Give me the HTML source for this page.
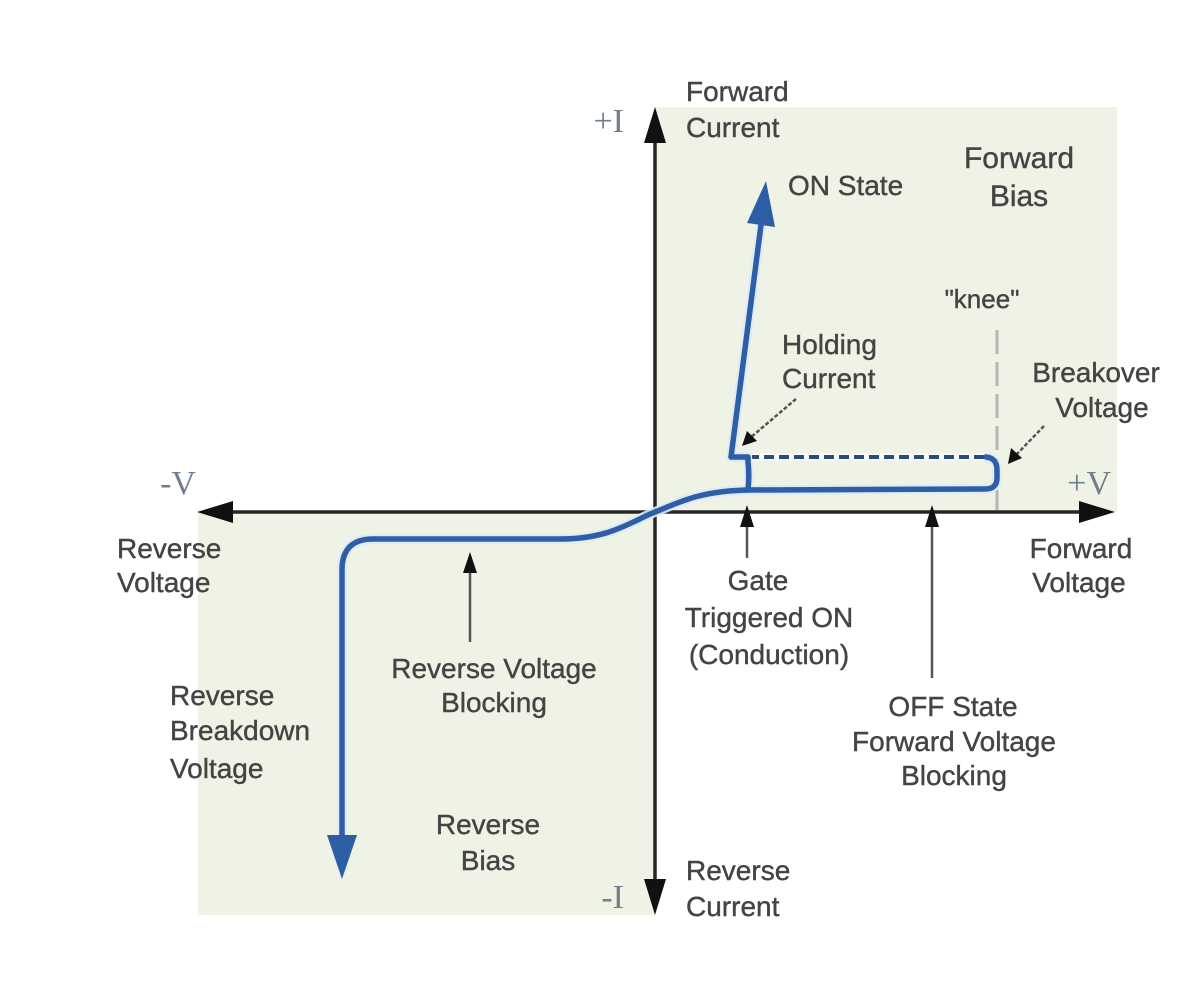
<!DOCTYPE html>
<html>
<head>
<meta charset="utf-8">
<style>
  html, body { margin: 0; padding: 0; background: #ffffff; }
  svg { display: block; }
  .t { font-family: "Liberation Sans", Arial, sans-serif; font-size: 28px; fill: #444444; stroke: #444444; stroke-width: 0.4px; }
  .s { font-family: "Liberation Serif", "Times New Roman", serif; font-size: 34px; fill: #6f7f8f; }
</style>
</head>
<body>
<svg width="1200" height="981" viewBox="0 0 1200 981" xmlns="http://www.w3.org/2000/svg">
  <rect x="0" y="0" width="1200" height="981" fill="#ffffff"/>
  <!-- shaded quadrants -->
  <rect x="655" y="107" width="462" height="405" fill="#eef3e5"/>
  <rect x="198" y="512" width="457" height="403" fill="#eef3e5"/>

  <!-- knee dashed gray line -->
  <line x1="997" y1="330" x2="997" y2="510" stroke="#b4b4b4" stroke-width="3" stroke-dasharray="24 8"/>

  <!-- axes -->
  <line x1="655" y1="138" x2="655" y2="884" stroke="#262626" stroke-width="3.5"/>
  <line x1="228" y1="512" x2="1084" y2="512" stroke="#262626" stroke-width="3.5"/>
  <polygon points="655,107 644,143 666,143" fill="#111"/>
  <polygon points="655,915 644,879 666,879" fill="#111"/>
  <polygon points="197,512 233,501 233,523" fill="#111"/>
  <polygon points="1115,512 1079,501 1079,523" fill="#111"/>

  <!-- blue curve halo -->
  <g fill="none" stroke="#dfeaf6" stroke-width="10" stroke-linejoin="round" stroke-linecap="round" opacity="0.9">
    <path d="M342,838 L342,570 Q342,539 373,539 L560,539 C610,539 630,522 655,512 C680,502 700,491 748,490 L985,489 Q997,489 997,478 L997,470 Q997,458 986,457"/>
    <path d="M748,490 C749,480 749,470 748,462 L748,457 L731,457 L761,225"/>
  </g>
  <!-- blue curve -->
  <g fill="none" stroke="#2d5ea6" stroke-width="5.5" stroke-linejoin="round" stroke-linecap="round">
    <path d="M342,838 L342,570 Q342,539 373,539 L560,539 C610,539 630,522 655,512 C680,502 700,491 748,490 L985,489 Q997,489 997,478 L997,470 Q997,458 986,457"/>
    <path d="M748,490 C749,480 749,470 748,462 L748,457 L731,457 L761,225"/>
  </g>
  <!-- dashed holding line -->
  <line x1="984" y1="457" x2="752" y2="457" stroke="#ffffff" stroke-width="7"/>
  <line x1="984" y1="457" x2="752" y2="457" stroke="#2a4a80" stroke-width="4" stroke-dasharray="10 5"/>

  <!-- blue arrowheads -->
  <polygon points="766,181 747,223 775,227" fill="#2d5ea6"/>
  <polygon points="342,879 327,835 357,835" fill="#2d5ea6"/>

  <!-- callout arrows -->
  <g stroke="#555" stroke-width="2.5" fill="none">
    <line x1="796" y1="399" x2="750" y2="438" stroke-dasharray="4 2"/>
    <line x1="1044" y1="426" x2="1015" y2="456" stroke-dasharray="4 2"/>
    <line x1="470" y1="642" x2="470" y2="570"/>
    <line x1="747" y1="558" x2="747" y2="525"/>
    <line x1="932" y1="678" x2="932" y2="525"/>
  </g>
  <polygon points="742,446 747,431 757,441" fill="#111"/>
  <polygon points="1008,464 1011,448 1022,458" fill="#111"/>
  <polygon points="470,552 463,573 477,573" fill="#111"/>
  <polygon points="747,505 740,527 754,527" fill="#111"/>
  <polygon points="932,505 925,527 939,527" fill="#111"/>

  <!-- axis symbols -->
  <text class="s" x="624" y="132" text-anchor="end">+I</text>
  <text class="s" x="624" y="908" text-anchor="end">-I</text>
  <text class="s" x="1111" y="494" text-anchor="end">+V</text>
  <text class="s" x="196" y="494" text-anchor="end">-V</text>

  <!-- labels -->
  <text class="t" x="686" y="101">Forward</text>
  <text class="t" x="686" y="137">Current</text>

  <text class="t" x="788" y="195">ON State</text>

  <text class="t" x="1019" y="168" text-anchor="middle" style="font-size:30px">Forward</text>
  <text class="t" x="1019" y="206" text-anchor="middle" style="font-size:30px">Bias</text>

  <text class="t" x="982" y="308" text-anchor="middle" style="font-size:26px">"knee"</text>

  <text class="t" x="782" y="354">Holding</text>
  <text class="t" x="782" y="388">Current</text>

  <text class="t" x="1096" y="382" text-anchor="middle">Breakover</text>
  <text class="t" x="1102" y="417" text-anchor="middle">Voltage</text>

  <text class="t" x="117" y="558">Reverse</text>
  <text class="t" x="117" y="592">Voltage</text>

  <text class="t" x="1081" y="558" text-anchor="middle">Forward</text>
  <text class="t" x="1079" y="592" text-anchor="middle">Voltage</text>

  <text class="t" x="758" y="590" text-anchor="middle">Gate</text>
  <text class="t" x="769" y="627" text-anchor="middle">Triggered ON</text>
  <text class="t" x="769" y="664" text-anchor="middle">(Conduction)</text>

  <text class="t" x="494" y="678" text-anchor="middle">Reverse Voltage</text>
  <text class="t" x="494" y="712" text-anchor="middle">Blocking</text>

  <text class="t" x="953" y="716" text-anchor="middle">OFF State</text>
  <text class="t" x="954" y="751" text-anchor="middle">Forward Voltage</text>
  <text class="t" x="954" y="785" text-anchor="middle">Blocking</text>

  <text class="t" x="170" y="705">Reverse</text>
  <text class="t" x="170" y="740">Breakdown</text>
  <text class="t" x="170" y="778">Voltage</text>

  <text class="t" x="488" y="834" text-anchor="middle">Reverse</text>
  <text class="t" x="488" y="870" text-anchor="middle">Bias</text>

  <text class="t" x="686" y="880">Reverse</text>
  <text class="t" x="686" y="916">Current</text>
</svg>
</body>
</html>
